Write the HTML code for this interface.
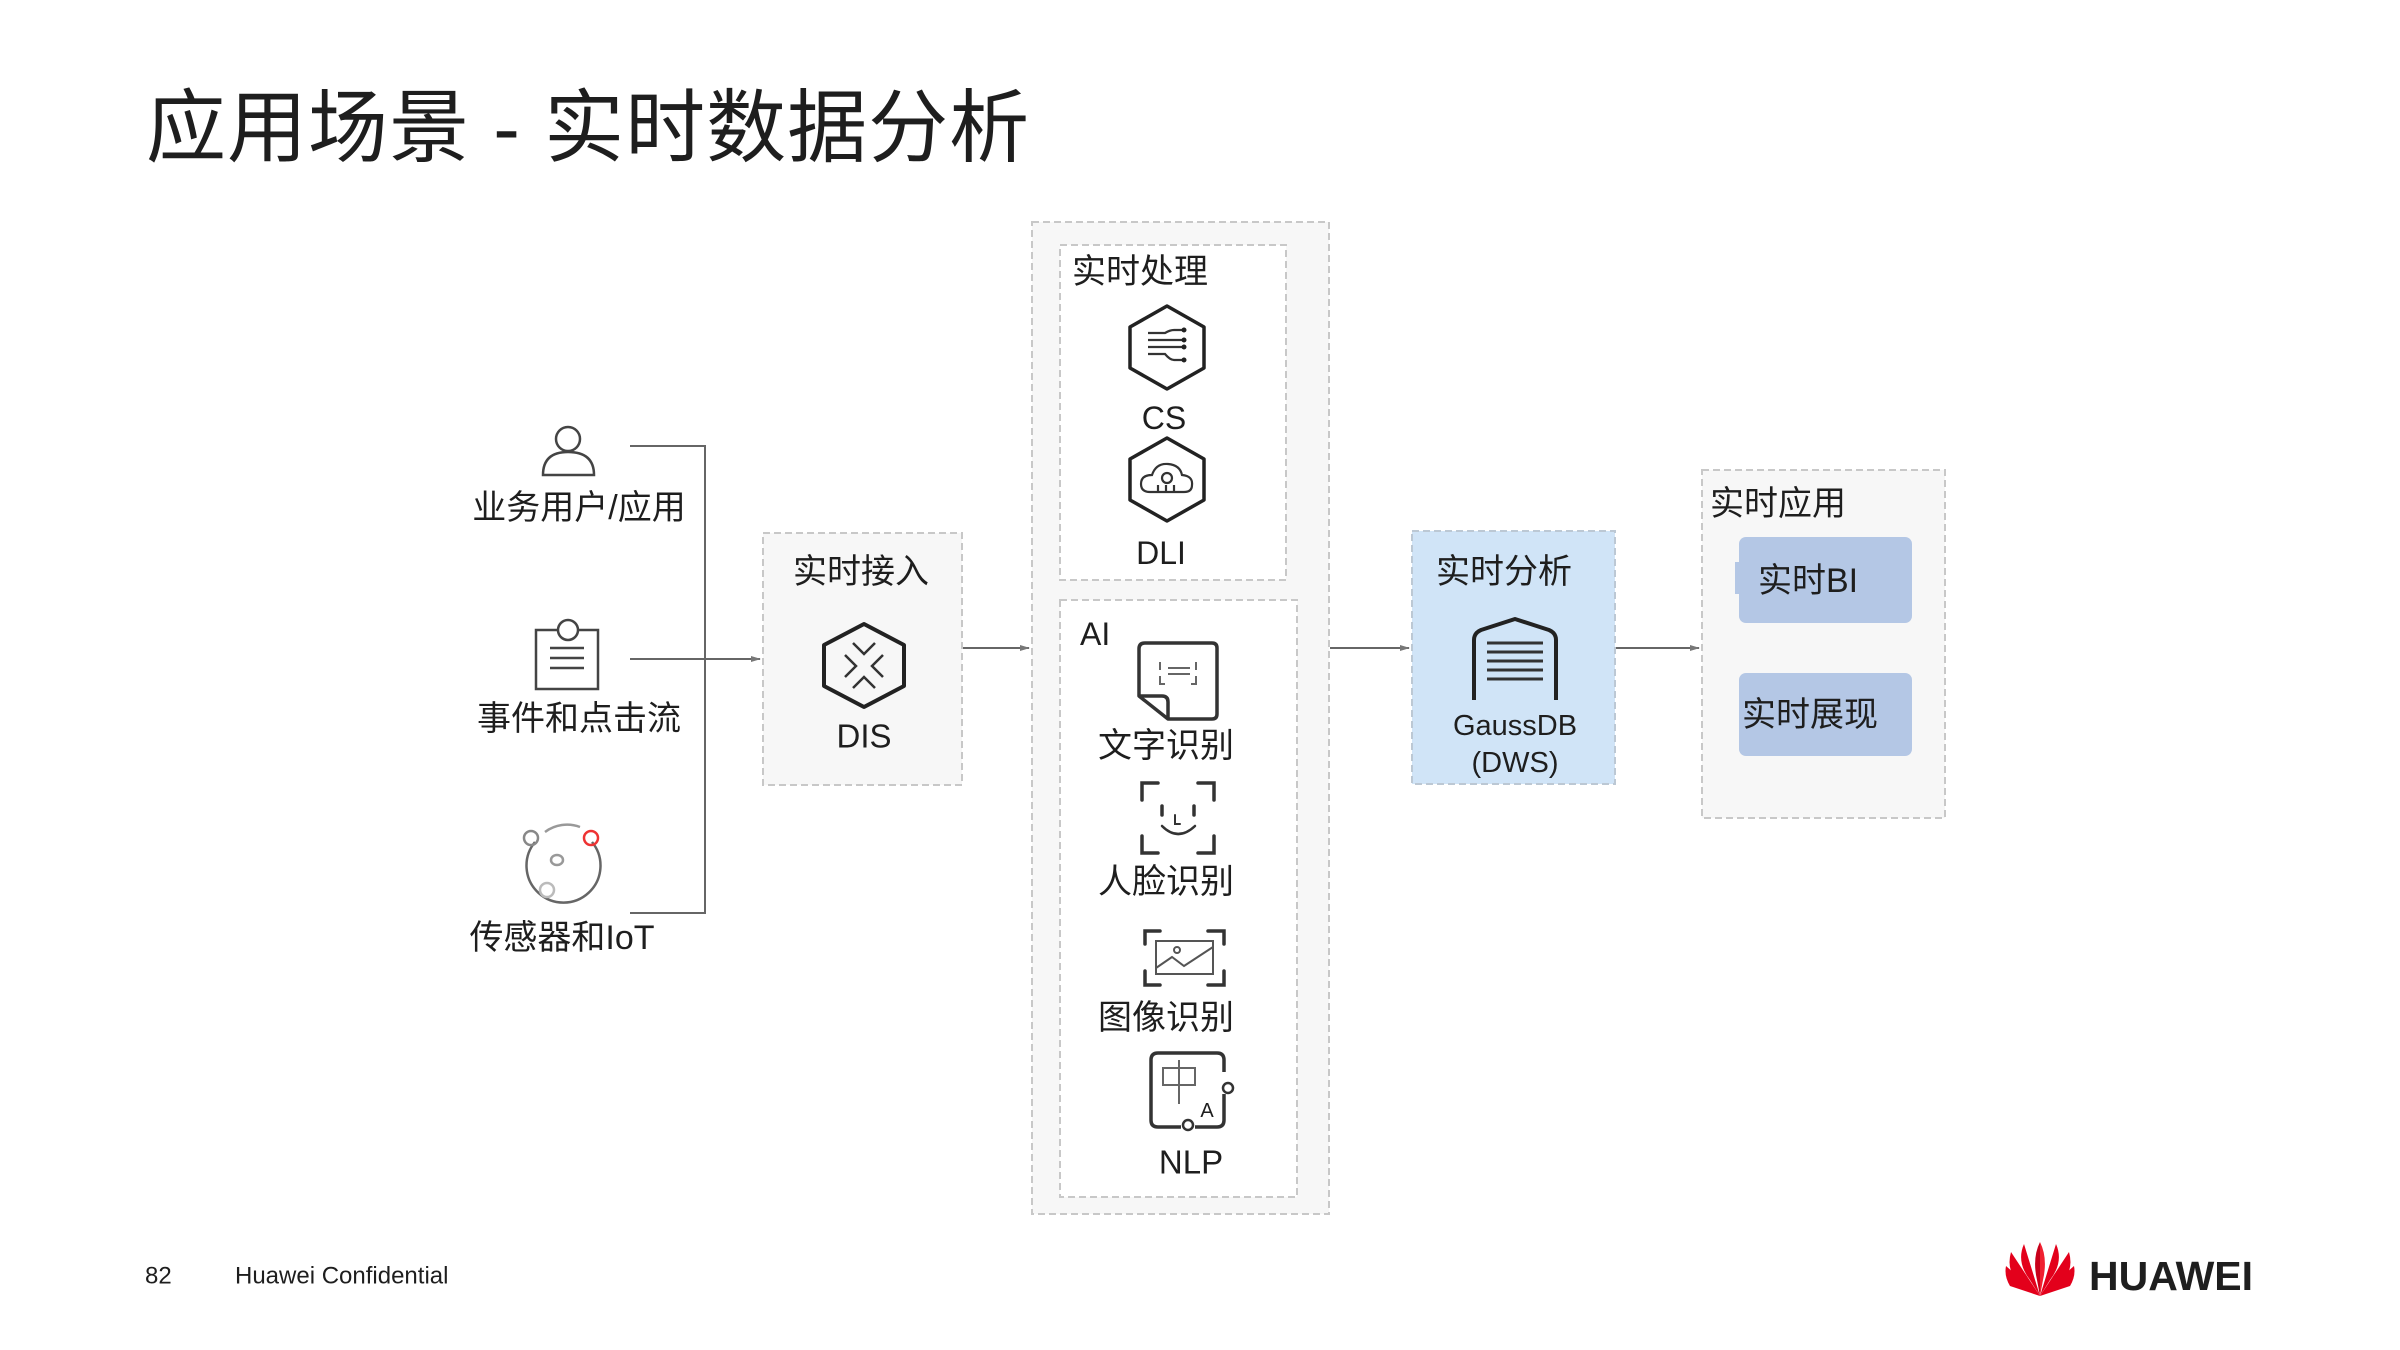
<!DOCTYPE html>
<html><head><meta charset="utf-8"><style>
html,body{margin:0;padding:0;background:#fff;}
svg{display:block;}
text{font-family:"Liberation Sans","Noto Sans CJK SC",sans-serif;fill:#1e1e1e;}
</style></head><body>
<svg width="2400" height="1350" viewBox="0 0 2400 1350" xmlns="http://www.w3.org/2000/svg">
<defs>
<marker id="ar" markerWidth="10" markerHeight="8" refX="9" refY="4" orient="auto" markerUnits="userSpaceOnUse">
<path d="M0,1 L10,4 L0,7 Z" fill="#777"/></marker>
</defs>
<!-- Title -->
<text x="146" y="128" font-size="80" letter-spacing="1" dominant-baseline="central" fill="#000">应用场景 - 实时数据分析</text>

<!-- Left sources -->
<g fill="none" stroke="#444" stroke-width="2.5">
 <circle cx="568" cy="439" r="12"/>
 <path d="M543,475 Q543,452 568,452 Q594,452 594,475 Z"/>
 <rect x="536" y="630" width="62" height="59"/>
 <circle cx="568" cy="630" r="10" fill="#fff"/>
 <line x1="550" y1="648" x2="584" y2="648"/><line x1="550" y1="658" x2="584" y2="658"/><line x1="550" y1="668" x2="584" y2="668"/>
 <path d="M535,842 A37,37 0 1 0 592,842" stroke="#666"/>
 <path d="M545,832 A37,37 0 0 1 580,827" stroke="#999"/>
 <circle cx="531" cy="838" r="7" stroke="#888"/>
 <circle cx="591" cy="838" r="7" stroke="#e33"/>
 <circle cx="547" cy="890" r="7" stroke="#bbb" fill="#fff"/>
 <ellipse cx="557" cy="860" rx="6" ry="5" stroke="#999"/>
</g>
<g font-size="34" text-anchor="middle" dominant-baseline="central">
 <text x="579" y="508">业务用户/应用</text>
 <text x="579" y="719">事件和点击流</text>
 <text x="562" y="938">传感器和IoT</text>
</g>
<!-- bracket -->
<g stroke="#666" stroke-width="2" fill="none">
 <polyline points="630,446 705,446 705,913 630,913"/>
 <line x1="630" y1="659" x2="760" y2="659" marker-end="url(#ar)"/>
 <line x1="962" y1="648" x2="1029" y2="648" marker-end="url(#ar)"/>
 <line x1="1330" y1="648" x2="1409" y2="648" marker-end="url(#ar)"/>
 <line x1="1616" y1="648" x2="1699" y2="648" marker-end="url(#ar)"/>
</g>

<!-- DIS box -->
<rect x="763" y="533" width="199" height="252" fill="#f7f7f7" stroke="#c8c8c8" stroke-width="2" stroke-dasharray="7,4"/>
<text x="861" y="572" font-size="34" text-anchor="middle" dominant-baseline="central">实时接入</text>
<g fill="none" stroke="#222" stroke-width="4" stroke-linejoin="round">
 <polygon points="864,624 904,645 904,686 864,707 824,686 824,645"/>
</g>
<g fill="none" stroke="#333" stroke-width="2.5">
 <polyline points="853,643 864,654 875,643"/><polyline points="853,688 864,677 875,688"/>
 <polyline points="845,655 856,666 845,677"/><polyline points="883,655 872,666 883,677"/>
</g>
<text x="864" y="736" font-size="33" text-anchor="middle" dominant-baseline="central">DIS</text>

<!-- Middle big container -->
<rect x="1032" y="222" width="297" height="992" fill="#f7f7f7" stroke="#c8c8c8" stroke-width="2" stroke-dasharray="7,4"/>
<rect x="1060" y="245" width="226" height="335" fill="#fff" stroke="#c8c8c8" stroke-width="2" stroke-dasharray="7,4"/>
<rect x="1060" y="600" width="237" height="597" fill="#fff" stroke="#c8c8c8" stroke-width="2" stroke-dasharray="7,4"/>
<text x="1072" y="272" font-size="34" dominant-baseline="central">实时处理</text>
<g fill="none" stroke="#222" stroke-width="3.5" stroke-linejoin="round">
 <polygon points="1167,306 1204,327 1204,368 1167,389 1130,368 1130,327"/>
 <polygon points="1167,438 1204,459 1204,500 1167,521 1130,500 1130,459"/>
</g>
<g fill="none" stroke="#333" stroke-width="2.2">
 <line x1="1148" y1="340" x2="1184" y2="340"/><line x1="1148" y1="347" x2="1184" y2="347"/>
 <path d="M1148,333 L1165,333 Q1170,330 1174,330 L1184,330"/>
 <path d="M1148,354 L1165,354 Q1170,360 1174,360 L1184,360"/>
 <path d="M1150,492 Q1141,492 1141,484 Q1141,475 1152,475 Q1156,463 1168,464 Q1180,465 1182,475 Q1193,476 1192,485 Q1192,492 1184,492 Z"/>
 <circle cx="1167" cy="478" r="5"/>
 <line x1="1158" y1="485" x2="1158" y2="492"/><line x1="1166" y1="485" x2="1166" y2="492"/><line x1="1174" y1="485" x2="1174" y2="492"/>
</g>
<g fill="#222"><circle cx="1184" cy="330" r="2.5"/><circle cx="1184" cy="340" r="2.5"/><circle cx="1184" cy="347" r="2.5"/><circle cx="1184" cy="360" r="2.5"/></g>
<text x="1164" y="418" font-size="32" text-anchor="middle" dominant-baseline="central">CS</text>
<text x="1161" y="553" font-size="32" text-anchor="middle" dominant-baseline="central">DLI</text>

<text x="1080" y="634" font-size="32" dominant-baseline="central">AI</text>
<g fill="none" stroke="#333" stroke-width="3.5" stroke-linejoin="round">
 <path d="M1145,643 L1212,643 Q1217,643 1217,648 L1217,714 Q1217,719 1212,719 L1168,719 L1139,696 L1139,649 Q1139,643 1145,643 Z"/>
 <path d="M1139,696 L1162,696 Q1168,696 1168,702 L1168,719"/>
</g>
<g fill="none" stroke="#666" stroke-width="2">
 <path d="M1160,662 L1160,670 M1160,676 L1160,684 L1165,684 M1196,662 L1196,670 M1196,676 L1196,684 L1191,684"/>
 <line x1="1168" y1="668" x2="1190" y2="668"/><line x1="1168" y1="674" x2="1190" y2="674"/>
</g>
<text x="1166" y="746" font-size="34" text-anchor="middle" dominant-baseline="central">文字识别</text>
<g fill="none" stroke="#333" stroke-width="3.5" stroke-linecap="round">
 <path d="M1142,800 L1142,783 L1158,783 M1198,783 L1214,783 L1214,800 M1142,836 L1142,853 L1158,853 M1198,853 L1214,853 L1214,836"/>
 <line x1="1162" y1="806" x2="1162" y2="815"/><line x1="1194" y1="806" x2="1194" y2="815"/>
 <path d="M1162,826 Q1178,842 1195,826" stroke-width="2.5"/>
 <path d="M1175,815 L1175,824 L1180,824" stroke-width="2"/>
</g>
<text x="1166" y="882" font-size="34" text-anchor="middle" dominant-baseline="central">人脸识别</text>
<g fill="none" stroke="#333" stroke-width="3.5" stroke-linecap="round">
 <path d="M1145,944 L1145,931 L1160,931 M1208,931 L1224,931 L1224,944 M1145,971 L1145,985 L1160,985 M1208,985 L1224,985 L1224,971"/>
</g>
<g fill="none" stroke="#555" stroke-width="2">
 <rect x="1156" y="941" width="57" height="33"/>
 <polyline points="1156,968 1172,957 1184,966 1213,947"/>
 <circle cx="1177" cy="950" r="3"/>
</g>
<text x="1166" y="1018" font-size="34" text-anchor="middle" dominant-baseline="central">图像识别</text>
<g fill="none" stroke="#333" stroke-width="3.5" stroke-linejoin="round">
 <path d="M1224,1072 L1224,1060 Q1224,1053 1217,1053 L1158,1053 Q1151,1053 1151,1060 L1151,1120 Q1151,1127 1158,1127 L1181,1127 M1195,1127 L1217,1127 Q1224,1127 1224,1120 L1224,1094"/>
</g>
<circle cx="1228" cy="1088" r="5" fill="#fff" stroke="#333" stroke-width="2.5"/>
<circle cx="1188" cy="1125" r="5" fill="#fff" stroke="#333" stroke-width="2.5"/>
<g fill="none" stroke="#666" stroke-width="2">
 <rect x="1163" y="1068" width="32" height="17"/><line x1="1179" y1="1060" x2="1179" y2="1104"/>
</g>
<text x="1207" y="1111" font-size="20" text-anchor="middle" dominant-baseline="central" fill="#555">A</text>
<text x="1191" y="1162" font-size="33" text-anchor="middle" dominant-baseline="central">NLP</text>

<!-- GaussDB -->
<rect x="1412" y="531" width="203" height="253" fill="#d0e4f7" stroke="#bcc8d4" stroke-width="2" stroke-dasharray="7,4"/>
<text x="1504" y="572" font-size="34" text-anchor="middle" dominant-baseline="central">实时分析</text>
<g fill="none" stroke="#222" stroke-width="4" stroke-linejoin="round">
 <path d="M1474,700 L1474,640 Q1474,633 1481,630 L1515,619 L1549,630 Q1556,633 1556,640 L1556,700"/>
</g>
<g stroke="#333" stroke-width="3">
 <line x1="1487" y1="643" x2="1543" y2="643"/><line x1="1487" y1="652" x2="1543" y2="652"/>
 <line x1="1487" y1="661" x2="1543" y2="661"/><line x1="1487" y1="670" x2="1543" y2="670"/>
 <line x1="1487" y1="679" x2="1543" y2="679"/>
</g>
<text x="1515" y="726" font-size="29" text-anchor="middle" dominant-baseline="central">GaussDB</text>
<text x="1515" y="763" font-size="29" text-anchor="middle" dominant-baseline="central">(DWS)</text>

<!-- 实时应用 -->
<rect x="1702" y="470" width="243" height="348" fill="#f7f7f7" stroke="#c8c8c8" stroke-width="2" stroke-dasharray="7,4"/>
<text x="1710" y="504" font-size="34" dominant-baseline="central">实时应用</text>
<rect x="1739" y="537" width="173" height="86" rx="7" fill="#b4c7e5"/>
<rect x="1735" y="562" width="8" height="32" fill="#b4c7e5"/>
<text x="1758" y="581" font-size="34" dominant-baseline="central">实时BI</text>
<rect x="1739" y="673" width="173" height="83" rx="7" fill="#b4c7e5"/>
<text x="1742" y="715" font-size="34" dominant-baseline="central">实时展现</text>

<!-- Footer -->
<text x="145" y="1276" font-size="24" dominant-baseline="central" fill="#333">82</text>
<text x="235" y="1276" font-size="24" dominant-baseline="central" fill="#333">Huawei Confidential</text>
<g fill="#e3001b">
 <path d="M2040,1296 L2006,1266 Q2004,1276 2010,1286 Z"/>
 <path d="M2040,1296 L2011,1252 Q2006,1270 2018,1282 Z"/>
 <path d="M2040,1296 L2024,1244 Q2016,1262 2030,1280 Z"/>
 <path d="M2040,1296 L2040,1242 Q2032,1258 2037,1280 Z" fill="#c8001a"/>
 <path d="M2040,1296 L2040,1242 Q2048,1258 2043,1280 Z" fill="#f02030"/>
 <path d="M2040,1296 L2056,1244 Q2064,1262 2050,1280 Z"/>
 <path d="M2040,1296 L2069,1252 Q2074,1270 2062,1282 Z"/>
 <path d="M2040,1296 L2074,1266 Q2076,1276 2070,1286 Z"/>
</g>
<text x="2089" y="1276" font-size="41" font-weight="bold" dominant-baseline="central" fill="#222">HUAWEI</text>
</svg>
</body></html>
